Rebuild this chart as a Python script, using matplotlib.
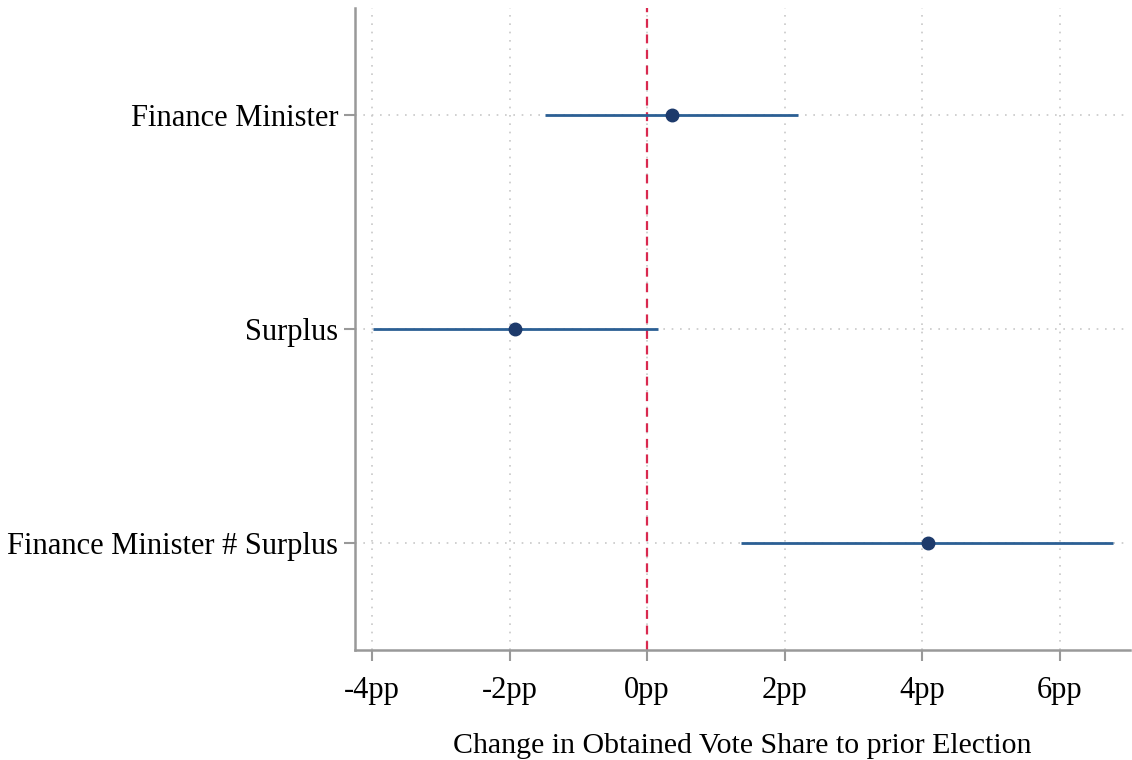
import matplotlib.pyplot as plt

# --- Données ---
variables = ["Finance Minister", "Surplus", "Finance Minister # Surplus"]
estimations = [0.36, -1.92, 4.09]
ic_bas = [-1.48, -3.99, 1.37]
ic_haut = [2.20, 0.16, 6.78]
ticks_x = [-4, -2, 0, 2, 4, 6]
labels_x = ["-4pp", "-2pp", "0pp", "2pp", "4pp", "6pp"]

plt.rcParams['font.family'] = ['Liberation Serif', 'DejaVu Serif']

fig = plt.figure(figsize=(11.32, 7.6), dpi=100)
ax = fig.add_axes([0.3136, 0.1447, 0.6844, 0.8448])

pos = list(range(1, len(variables) + 1))

ax.axvline(0, color='#d9294f', linestyle=(0, (4, 3)), linewidth=1.6, zorder=2)
ax.hlines(pos, ic_bas, ic_haut, color='#2b5f94', linewidth=2, zorder=3)
ax.plot(estimations, pos, 'o', color='#1d3a6b', markersize=9, zorder=4)

ax.set_xlim(-4.25, 7.02)
ax.set_ylim(3.5, 0.5)
ax.set_xticks(ticks_x)
ax.set_xticklabels(labels_x)
ax.set_yticks(pos)
ax.set_yticklabels(variables)
ax.tick_params(axis='both', labelsize=22, color='#999999', length=8, width=1.5)
ax.tick_params(axis='x', pad=11)
ax.tick_params(axis='y', pad=4)

ax.grid(True, linestyle=(0, (1, 4)), color='#c8c8c8', linewidth=1.2, zorder=0)
ax.set_axisbelow(True)

for s in ['top', 'right']:
    ax.spines[s].set_visible(False)
for s in ['left', 'bottom']:
    ax.spines[s].set_color('#999999')
    ax.spines[s].set_linewidth(1.8)

ax.set_xlabel("Change in Obtained Vote Share to prior Election", fontsize=21.5, labelpad=20)

plt.savefig("out.png", dpi=100)
